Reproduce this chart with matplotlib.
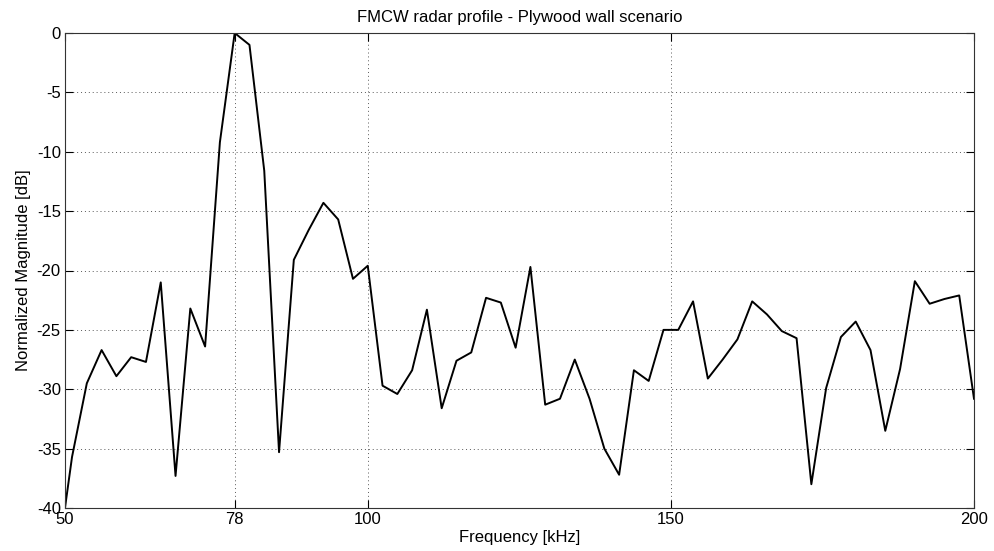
import numpy as np
import matplotlib
matplotlib.use("Agg")
import matplotlib.pyplot as plt

plt.rcParams['font.family'] = ['Liberation Sans', 'DejaVu Sans']
plt.rcParams['axes.unicode_minus'] = False

# Frequenzstützstellen [kHz] (Bin-Abstand ca. 2.44 kHz, Peak bei 78 kHz)
freq = [48.72, 51.16, 53.60, 56.04, 58.48, 60.92, 63.36, 65.80, 68.24, 70.68,
        73.12, 75.56, 78.00, 80.44, 82.88, 85.32, 87.76, 90.20, 92.64, 95.08,
        97.52, 99.96, 102.40, 104.84, 107.28, 109.72, 112.16, 114.60, 117.04, 119.48,
        121.92, 124.36, 126.80, 129.24, 131.68, 134.12, 136.56, 139.00, 141.44, 143.88,
        146.32, 148.76, 151.20, 153.64, 156.08, 158.52, 160.96, 163.40, 165.84, 168.28,
        170.72, 173.16, 175.60, 178.04, 180.48, 182.92, 185.36, 187.80, 190.24, 192.68,
        195.12, 197.56, 200.00]

# normierte Magnitude [dB]
mag = [-44.7, -35.7, -29.5, -26.7, -28.9, -27.3, -27.7, -21.0, -37.3, -23.2,
       -26.4, -9.2, 0.0, -1.0, -11.6, -35.3, -19.1, -16.6, -14.3, -15.7,
       -20.7, -19.6, -29.7, -30.4, -28.4, -23.3, -31.6, -27.6, -26.9, -22.3,
       -22.7, -26.5, -19.7, -31.3, -30.8, -27.5, -30.8, -35.0, -37.2, -28.4,
       -29.3, -25.0, -25.0, -22.6, -29.1, -27.5, -25.8, -22.6, -23.7, -25.1,
       -25.7, -38.0, -29.9, -25.6, -24.3, -26.7, -33.5, -28.3, -20.9, -22.8,
       -22.4, -22.1, -30.8]

xticks = [50, 78, 100, 150, 200]
yticks = [0, -5, -10, -15, -20, -25, -30, -35, -40]

fig = plt.figure(figsize=(9.95, 5.51), dpi=100)
ax = fig.add_axes([65 / 995, 1 - 508 / 551, (974 - 65) / 995, (508 - 33) / 551])

ax.plot(freq, mag, color="black", lw=1.4)

ax.set_xlim(50, 200)
ax.set_ylim(-40, 0)
ax.set_xticks(xticks)
ax.set_yticks(yticks)
ax.tick_params(direction="in", length=6, width=0.8, top=True, right=True,
               labelsize=12, colors="black", pad=3)
ax.grid(True, linestyle=(0, (1, 3)), color="0.35", lw=0.7)

for s in ax.spines.values():
    s.set_linewidth(0.8)
    s.set_color("0.2")

ax.set_title("FMCW radar profile - Plywood wall scenario", fontsize=12, pad=8)
ax.set_xlabel("Frequency [kHz]", fontsize=12, labelpad=2)
ax.set_ylabel("Normalized Magnitude [dB]", fontsize=12, labelpad=4)

fig.savefig("out.png", dpi=100, facecolor="white")
